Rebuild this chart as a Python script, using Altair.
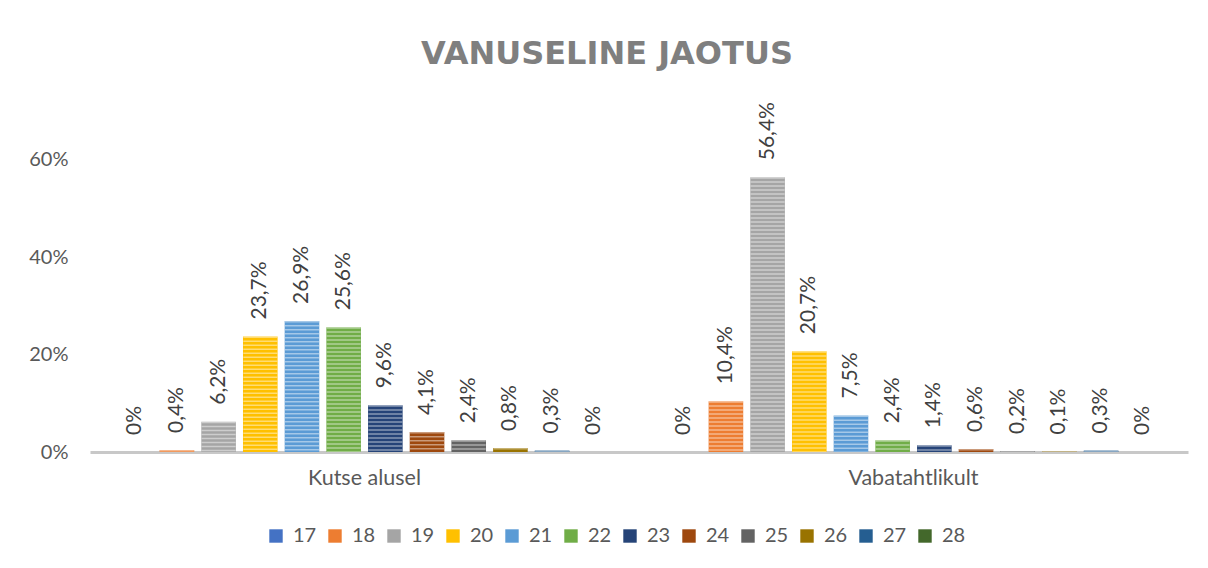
import altair as alt
import pandas as pd

categories = ["Kutse alusel", "Vabatahtlikult"]
ages = ["17", "18", "19", "20", "21", "22", "23", "24", "25", "26", "27", "28"]
kutse_alusel = [0, 0.4, 6.2, 23.7, 26.9, 25.6, 9.6, 4.1, 2.4, 0.8, 0.3, 0]
vabatahtlikult = [0, 10.4, 56.4, 20.7, 7.5, 2.4, 1.4, 0.6, 0.2, 0.1, 0.3, 0]
colors = ["#4472C4", "#ED7D31", "#A5A5A5", "#FFC000", "#5B9BD5", "#70AD47",
          "#264478", "#9E480E", "#636363", "#997300", "#255E91", "#43682B"]
y_ticks = [0, 0.2, 0.4, 0.6]


def label(v):
    if v == 0:
        return "0%"
    return f"{v:.1f}".replace(".", ",") + "%"


rows = []
for cat, vals in zip(categories, [kutse_alusel, vabatahtlikult]):
    for a, v in zip(ages, vals):
        rows.append({"kat": cat, "vanus": a, "osa": v / 100, "silt": label(v)})
df = pd.DataFrame(rows)

FONT = "Lato"

x = alt.X("kat:N", sort=categories,
          scale=alt.Scale(paddingInner=0, paddingOuter=0),
          axis=alt.Axis(title=None, labelAngle=0, ticks=False,
                        domainColor="#c8c8c8", domainWidth=3,
                        labelFontSize=21.5, labelFont=FONT, labelColor="#595959",
                        labelPadding=15))
xo = alt.XOffset("vanus:N", sort=ages,
                 scale=alt.Scale(paddingInner=0.17, paddingOuter=0.67))
y = alt.Y("osa:Q", scale=alt.Scale(domain=[0, 0.7], nice=False),
          axis=alt.Axis(values=y_ticks, format=".0%", title=None, grid=False,
                        domain=False, ticks=False, labelPadding=22,
                        labelFontSize=20, labelFont=FONT, labelColor="#595959"))
color = alt.Color("vanus:N", sort=ages,
                  scale=alt.Scale(domain=ages, range=colors),
                  legend=alt.Legend(title=None, orient="none", legendX=176,
                                    legendY=415, direction="horizontal",
                                    symbolType="square", symbolSize=180,
                                    symbolStrokeWidth=0,
                                    labelFontSize=20, labelFont=FONT,
                                    labelColor="#595959", labelOffset=7,
                                    columnPadding=8))

base = alt.Chart(df)

bars = base.mark_bar().encode(x=x, xOffset=xo, y=y, color=color)

stripes = base.mark_rule(strokeWidth=34, strokeDash=[1.5, 2.5], color="white",
                         opacity=0.45).encode(
    x=x, xOffset=xo, y=alt.Y("osa:Q"), y2=alt.datum(0))

texts = base.mark_text(angle=270, align="left", baseline="middle", dx=17,
                       fontSize=21, font=FONT, color="#404040").encode(
    x=x, xOffset=xo, y=alt.Y("osa:Q"), text="silt:N")

chart = alt.layer(bars, stripes, texts).properties(
    width=1098, height=341,
    background="white",
    title=alt.Title("VANUSELINE JAOTUS", fontSize=32, font="DejaVu Sans",
                    fontWeight="bold", color="#7f7f7f", frame="group",
                    anchor="middle", dx=-32, offset=6, baseline="alphabetic"),
    autosize=alt.AutoSizeParams(type="none"),
    padding={"left": 82, "top": 103, "right": 12, "bottom": 100},
).configure_view(strokeWidth=0, stroke=None)

chart.save("out.html", embed_options={"renderer": "svg", "actions": False})
